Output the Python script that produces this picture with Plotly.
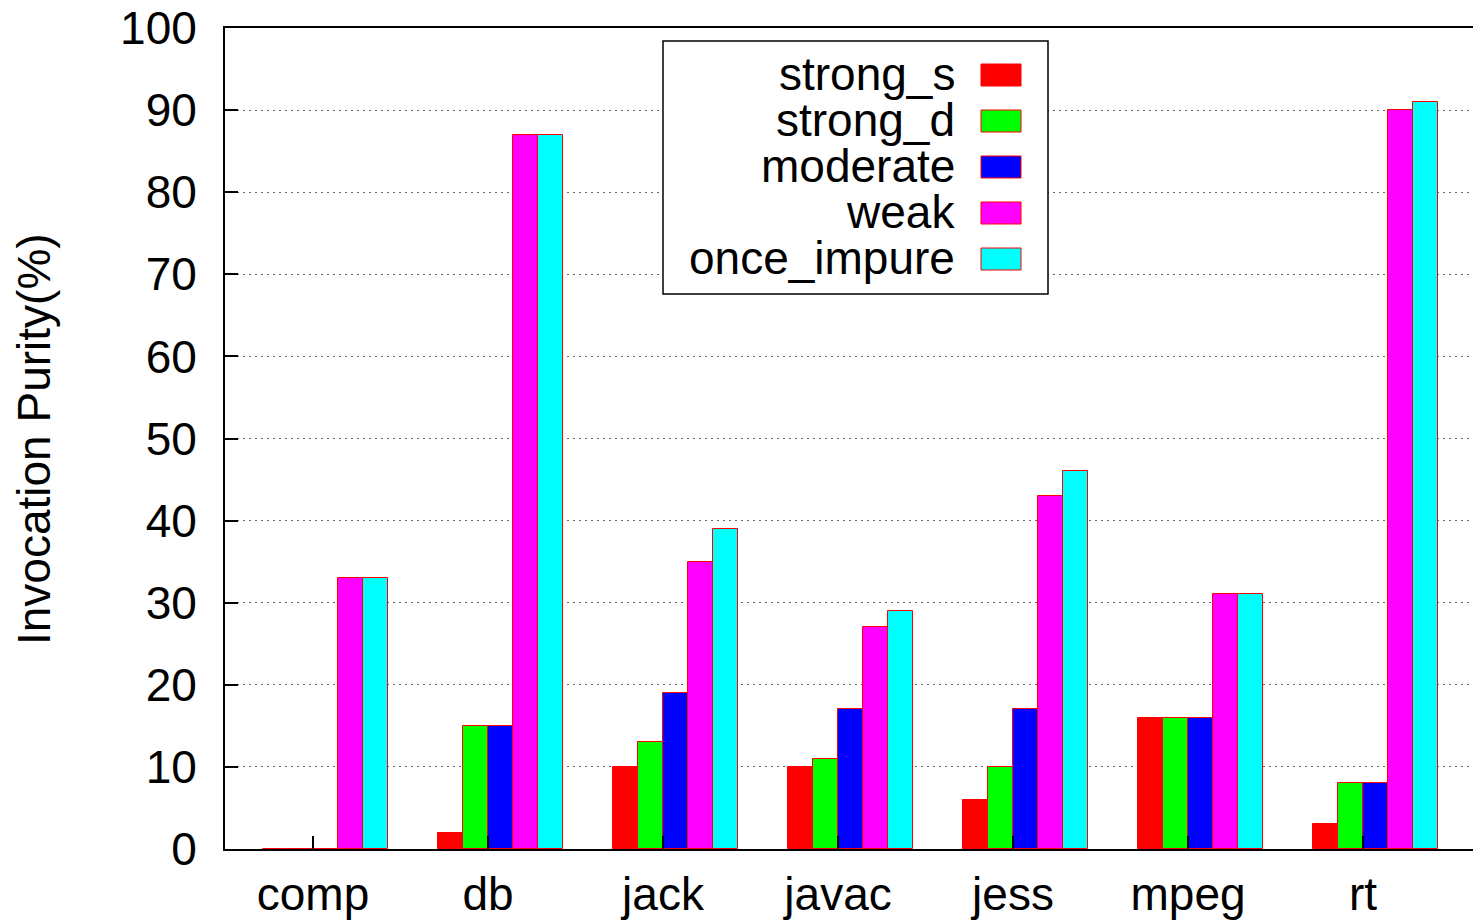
import plotly.graph_objects as go

categories = ["comp", "db", "jack", "javac", "jess", "mpeg", "rt"]
series_names = ["strong_s", "strong_d", "moderate", "weak", "once_impure"]
strong_s = [0, 2, 10, 10, 6, 16, 3]
strong_d = [0, 15, 13, 11, 10, 16, 8]
moderate = [0, 15, 19, 17, 17, 16, 8]
weak = [33, 87, 35, 27, 43, 31, 90]
once_impure = [33, 87, 39, 29, 46, 31, 91]
y_ticks = [0, 10, 20, 30, 40, 50, 60, 70, 80, 90, 100]
y_title = "Invocation Purity(%)"

series_values = [strong_s, strong_d, moderate, weak, once_impure]
colors = ["#ff0000", "#00ff00", "#0000ff", "#ff00ff", "#00ffff"]

FONT = "Liberation Sans, Arial, Helvetica, sans-serif"
FS = 46
W, H = 1473, 922
ML, MT, MB, MR = 225, 28, 73, 0
PW, PH = W - ML - MR, H - MT - MB

bw = 1.0 / 7.0
offsets = [-1.5, -0.5, 0.5, 1.5, 2.5]

fig = go.Figure()
xidx = list(range(len(categories)))
for name, vals, col, off in zip(series_names, series_values, colors, offsets):
    fig.add_trace(go.Bar(
        x=[i + off * bw for i in xidx], y=vals, width=bw, name=name,
        marker=dict(color=col, line=dict(color="#ff0000", width=1)),
        showlegend=False,
    ))

def px_to_paper_x(px):
    return (px - ML) / PW

def px_to_paper_y(py):
    return (H - MB - py) / PH

# legend drawn manually (swatch on the right of right-aligned text)
shapes = [dict(type="rect", xref="paper", yref="paper",
               x0=px_to_paper_x(663), x1=px_to_paper_x(1048),
               y0=px_to_paper_y(294), y1=px_to_paper_y(41),
               line=dict(color="black", width=1.5), fillcolor="white", layer="above")]
annotations = []
for k, (name, col) in enumerate(zip(series_names, colors)):
    cy = 75 + 46 * k
    shapes.append(dict(type="rect", xref="paper", yref="paper",
                       x0=px_to_paper_x(981), x1=px_to_paper_x(1021),
                       y0=px_to_paper_y(cy + 11), y1=px_to_paper_y(cy - 11),
                       line=dict(color="#ff0000", width=1), fillcolor=col, layer="above"))
    annotations.append(dict(xref="paper", yref="paper", x=px_to_paper_x(956),
                            y=px_to_paper_y(cy - 1), xanchor="right", yanchor="middle",
                            text=name, showarrow=False, borderpad=0,
                            font=dict(family=FONT, size=FS, color="black")))

# y-axis title
annotations.append(dict(xref="paper", yref="paper", x=px_to_paper_x(34), y=px_to_paper_y(439),
                        xanchor="center", yanchor="middle", textangle=-90,
                        text=y_title, showarrow=False, borderpad=0,
                        font=dict(family=FONT, size=FS, color="black")))

fig.update_layout(
    width=W, height=H,
    margin=dict(l=ML, r=MR, t=MT, b=MB, pad=0, autoexpand=False),
    paper_bgcolor="white", plot_bgcolor="white",
    barmode="overlay", bargap=0,
    font=dict(family=FONT, size=FS, color="black"),
    shapes=shapes, annotations=annotations,
    xaxis=dict(
        range=[-0.503, (1473 - 313) / 175],
        tickmode="array", tickvals=xidx, ticktext=categories,
        ticks="inside", ticklen=13, tickwidth=1.5, tickcolor="black",
        showline=True, linecolor="black", linewidth=2, mirror=True,
        showgrid=False, zeroline=False, automargin=False,
        tickfont=dict(family=FONT, size=FS, color="black"),
        ticklabelstandoff=4,
    ),
    yaxis=dict(
        range=[0, 100],
        tickmode="array", tickvals=y_ticks,
        ticks="inside", ticklen=13, tickwidth=1.5, tickcolor="black",
        showline=True, linecolor="black", linewidth=2, mirror=False,
        showgrid=True, gridcolor="#666666", gridwidth=1, griddash="2px,4px",
        zeroline=False, automargin=False,
        tickfont=dict(family=FONT, size=FS, color="black"),
        ticklabelstandoff=17,
    ),
)

fig.write_html("out.html", config={"displayModeBar": False},
               post_script="document.body.style.margin='0px';document.body.style.overflow='hidden';")
